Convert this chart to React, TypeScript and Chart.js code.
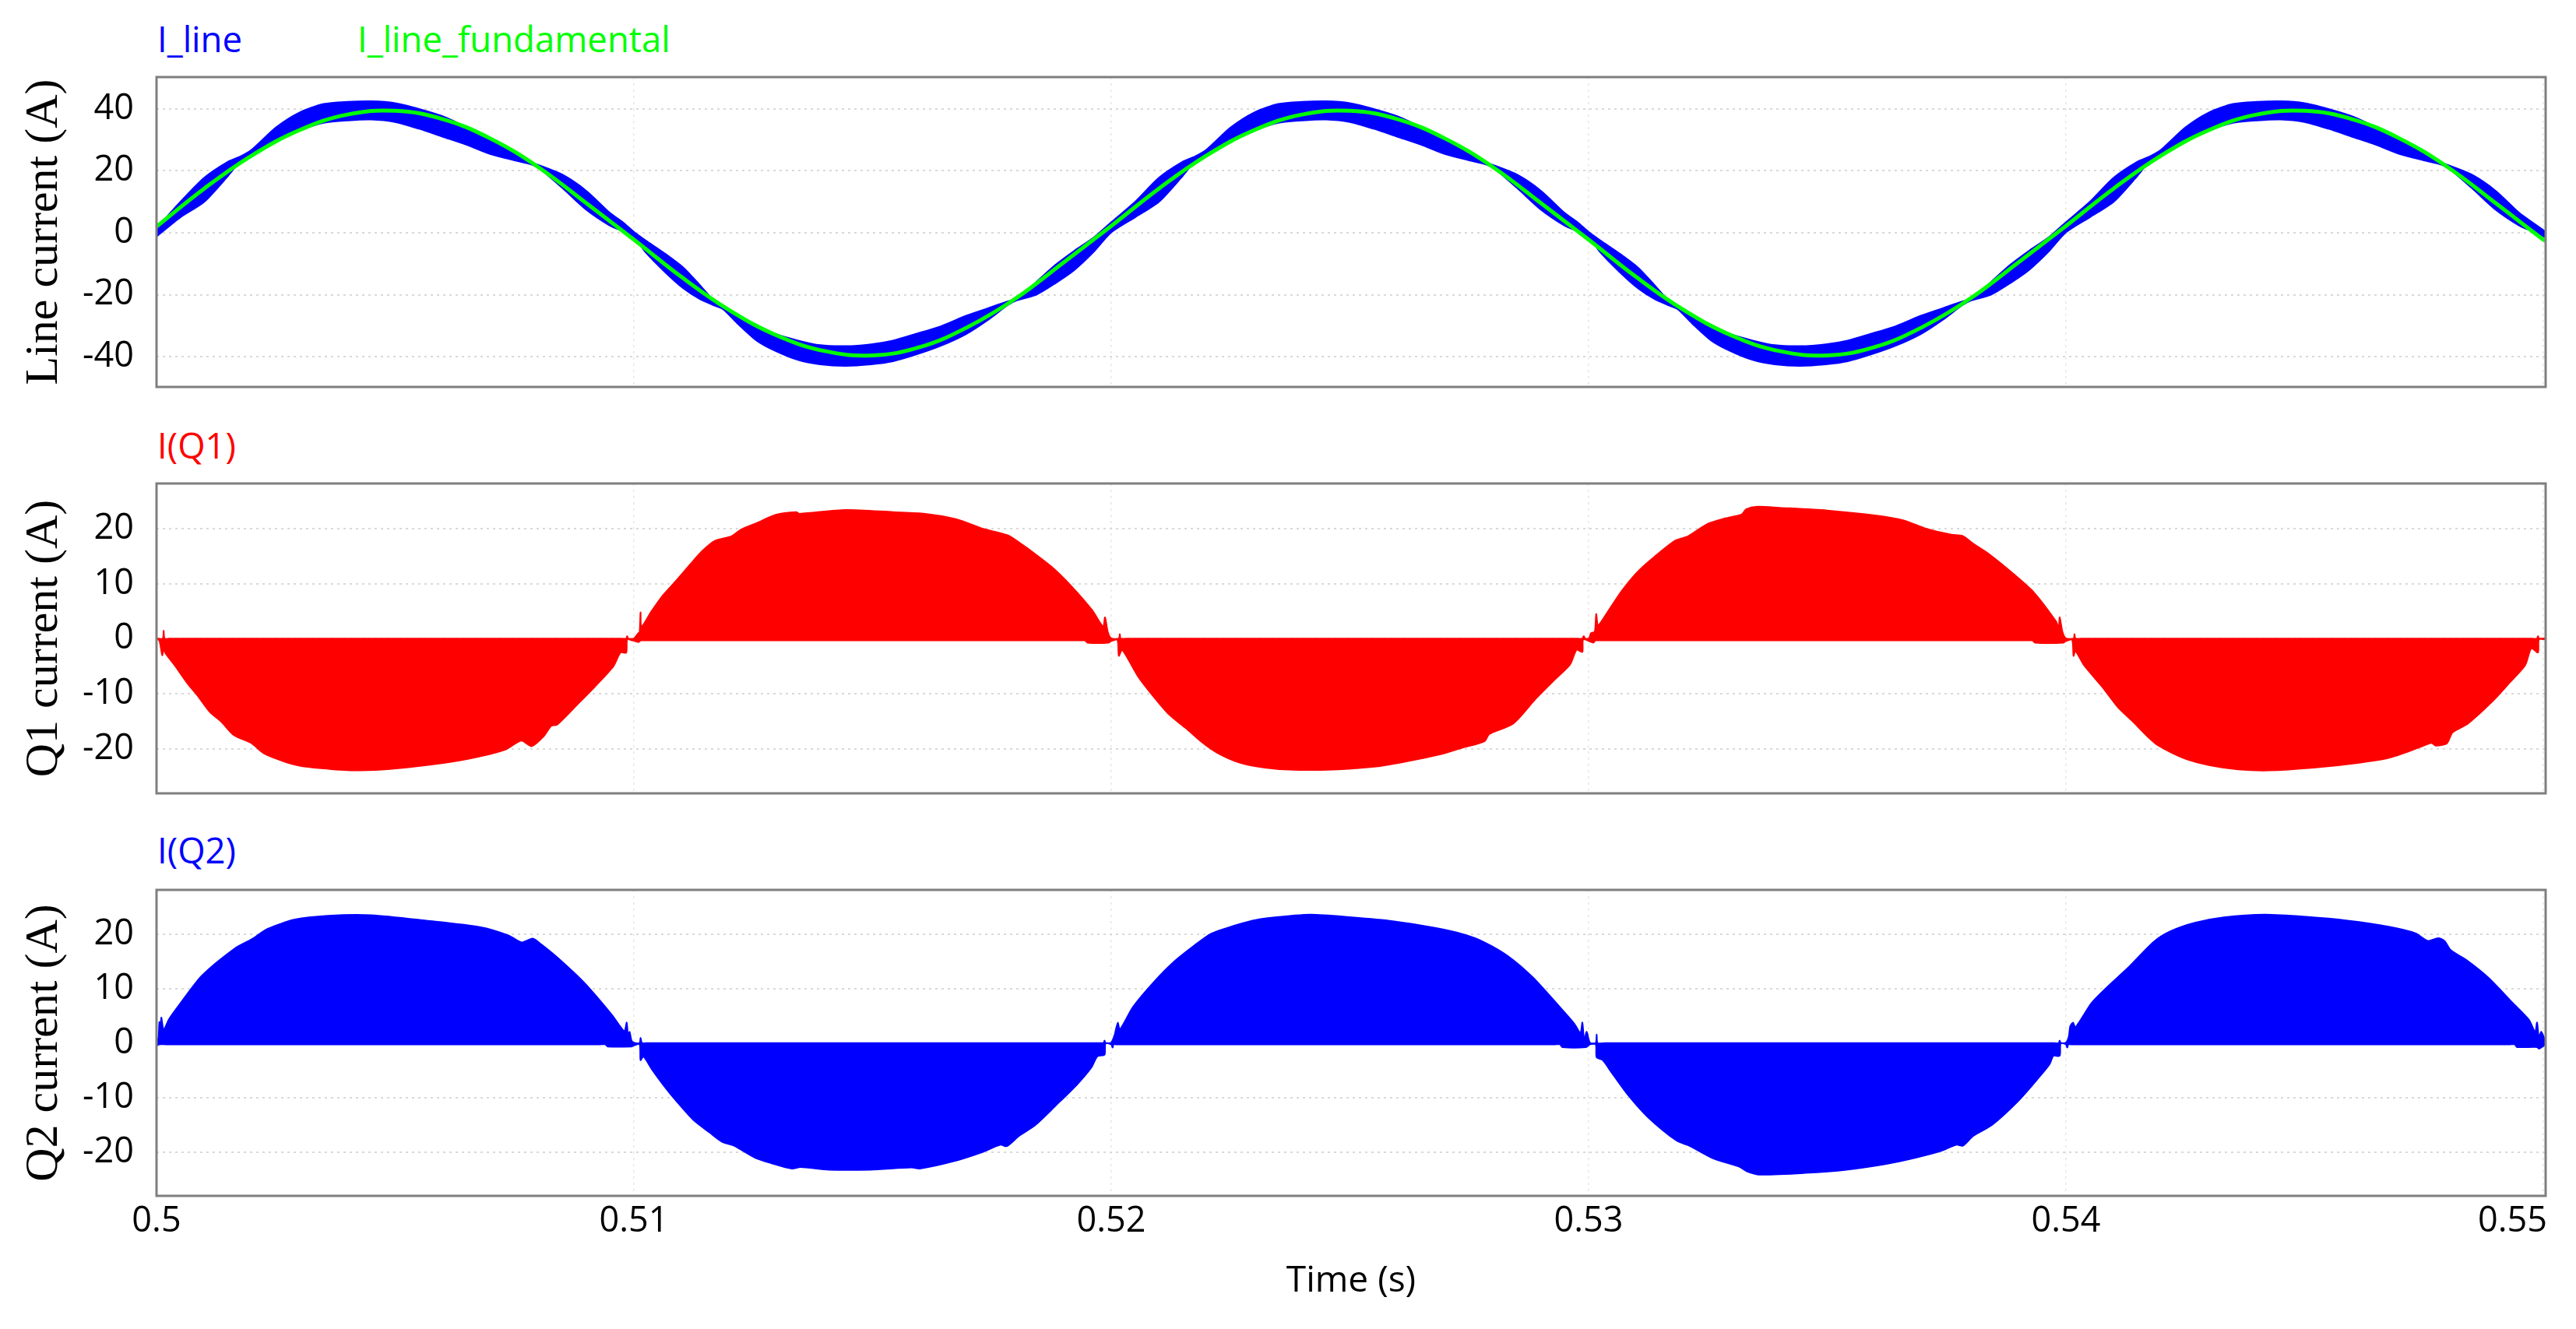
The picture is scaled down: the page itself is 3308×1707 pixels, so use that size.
import { useEffect, useRef } from "react"
import { Chart, registerables } from "chart.js"

Chart.register(...registerables)

// all times are ms after t = 0.5 s
const lineTime = [
  0, 0.5, 1, 1.5, 1.75, 2, 2.5, 3, 3.5, 4, 4.5, 5, 5.5, 6, 6.5, 7, 7.5, 7.8, 8, 8.5, 9, 9.5, 9.77,
  10, 10.24, 10.64, 11.04, 11.37, 11.67, 11.87, 12.17, 12.57, 12.97, 13.44, 13.9, 14.43, 14.97, 15.43, 15.9, 16.43, 16.96, 17.43, 17.83, 18.03, 18.43, 18.83, 19.23, 19.63,
  20, 20.5, 21, 21.5, 21.75, 22, 22.5, 23, 23.5, 24, 24.5, 25, 25.5, 26, 26.5, 27, 27.5, 27.8, 28, 28.5, 29, 29.5, 29.77,
  30, 30.24, 30.64, 31.04, 31.37, 31.67, 31.87, 32.17, 32.57, 32.97, 33.44, 33.9, 34.43, 34.97, 35.43, 35.9, 36.43, 36.96, 37.43, 37.83, 38.03, 38.43, 38.83, 39.23, 39.63,
  40, 40.5, 41, 41.5, 41.75, 42, 42.5, 43, 43.5, 44, 44.5, 45, 45.5, 46, 46.5, 47, 47.5, 47.8, 48, 48.5, 49, 49.5, 49.77, 50.05
]
const lineUpper = [
  1.4, 10, 17.8, 23, 24.6, 26.9, 34, 38.9, 41.6, 42.3, 42.5, 41.9, 40, 37.6, 34, 29.7, 25.4, 22.9, 21.9, 18.8, 13.6, 6.4, 3.4,
  0.3, -2.4, -6.6, -11.3, -16.7, -21.8, -23.9, -27, -29.7, -32.7, -34.8, -36.3, -36.6, -36, -34.8, -32.7, -30.2, -26.8, -24.3, -22.2, -21.3, -15.9, -10.4, -5.8, -1.6,
  3.4, 10, 17.8, 23, 24.6, 26.9, 34, 38.9, 41.6, 42.3, 42.5, 41.9, 40, 37.6, 34, 29.7, 25.4, 22.9, 21.9, 18.8, 13.6, 6.4, 3.4,
  0.3, -2.4, -6.6, -11.3, -16.7, -21.8, -23.9, -27, -29.7, -32.7, -34.8, -36.3, -36.6, -36, -34.8, -32.7, -30.2, -26.8, -24.3, -22.2, -21.3, -15.9, -10.4, -5.8, -1.6,
  3.4, 10, 17.8, 23, 24.6, 26.9, 34, 38.9, 41.6, 42.3, 42.5, 41.9, 40, 37.6, 34, 29.7, 25.4, 22.9, 21.9, 18.8, 13.6, 6.4, 3.4, 0.3
]
const lineLower = [
  -1.2, 5, 10, 18.4, 23, 25.6, 29.4, 33, 35.5, 36.3, 36.6, 35.8, 33.6, 31, 28.4, 25.4, 23.4, 22.3, 21, 14.5, 7.5, 2.3, 0.5,
  -1.2, -6.2, -12.5, -18, -21.3, -23.4, -24.7, -29.3, -34.8, -38.2, -41.1, -42.5, -43, -42.5, -41.5, -39.4, -36.5, -32.7, -28, -23.4, -21.8, -20, -16.3, -12, -6.2,
  0.1, 5, 10, 18.4, 23, 25.6, 29.4, 33, 35.5, 36.3, 36.6, 35.8, 33.6, 31, 28.4, 25.4, 23.4, 22.3, 21, 14.5, 7.5, 2.3, 0.5,
  -1.2, -6.2, -12.5, -18, -21.3, -23.4, -24.7, -29.3, -34.8, -38.2, -41.1, -42.5, -43, -42.5, -41.5, -39.4, -36.5, -32.7, -28, -23.4, -21.8, -20, -16.3, -12, -6.2,
  0.1, 5, 10, 18.4, 23, 25.6, 29.4, 33, 35.5, 36.3, 36.6, 35.8, 33.6, 31, 28.4, 25.4, 23.4, 22.3, 21, 14.5, 7.5, 2.3, 0.5, -1.5
]

const fundTime = [
  0, 1, 2, 3, 4, 5, 6, 7, 8, 9, 10, 11, 12, 13, 14, 15, 16, 17, 18, 19, 20, 21, 22, 23, 24, 25,
  26, 27, 28, 29, 30, 31, 32, 33, 34, 35, 36, 37, 38, 39, 40, 41, 42, 43, 44, 45, 46, 47, 48, 49, 50, 50.05
]
const fundValues = [
  2, 14.3, 25, 33.2, 38.2, 39.4, 36.7, 30.4, 21.2, 9.6, -2.2, -14.3, -25, -33.2, -38.2, -39.6, -36.9, -30.4, -21.2, -9.6, 2.2, 14.3, 25, 33.2, 38.2, 39.4,
  36.7, 30.4, 21.2, 9.6, -2.2, -14.3, -25, -33.2, -38.2, -39.6, -36.9, -30.4, -21.2, -9.6, 2.2, 14.3, 25, 33.2, 38.2, 39.4, 36.7, 30.4, 21.2, 9.6, -2.2, -2.6
]

const q1UpperTime = [
  0, 0.13, 0.15, 0.17, 0.3, 9.7, 9.84, 9.86, 9.88,
  10, 10.09, 10.12, 10.14, 10.16, 10.37, 10.6, 10.87, 11.17, 11.44, 11.7, 12.04, 12.24, 12.57, 12.97, 13.4, 13.47, 14.43, 15.43, 16.1, 16.76, 17.3, 17.83, 18.1, 18.36, 18.76, 19.16, 19.6, 19.83, 19.87, 19.93, 20,
  20.16, 20.18, 20.2, 20.35, 29.7, 29.87, 29.9, 29.93,
  30.01, 30.05, 30.13, 30.16, 30.2, 30.35, 30.68, 31.01, 31.34, 31.81, 32.08, 32.48, 32.88, 33.21, 33.3, 33.54, 34, 35, 36, 36.6, 37.07, 37.6, 37.83, 38.07, 38.4, 38.87, 39.33, 39.79, 39.85, 39.87, 39.93, 40,
  40.16, 40.18, 40.2, 40.35, 49.7, 49.87, 49.89, 49.91, 50.05
]
const q1Upper = [
  0.05, 0.05, 1.5, 0.05, 0.05, 0.05, 0.05, 0.5, 0.05,
  0.05, 1, 1.2, 4.8, 2.2, 5, 7.8, 10.4, 13.4, 16, 17.8, 18.6, 19.8, 21, 22.5, 23, 22.7, 23.4, 23, 22.7, 21.7, 20, 18.8, 17.3, 15.7, 13, 9.6, 5.2, 2.2, 3.9, 1.2, 0.1,
  0.05, 0.9, 0.05, 0.05, 0.05, 0.05, 0.5, 0.05,
  0.1, 1, 1.3, 4.5, 2.5, 4.2, 8.5, 12, 14.6, 17.8, 18.6, 20.8, 21.9, 22.6, 23.5, 24, 23.8, 23.3, 22.4, 21.5, 20, 18.9, 18.7, 17.2, 15.3, 12, 8.4, 3.2, 2, 3.9, 1.2, 0.1,
  0.05, 0.9, 0.05, 0.05, 0.05, 0.05, 0.5, 0.05, 0.1
]
const q1LowerTime = [
  0, 0.06, 0.12, 0.15, 0.18, 0.38, 0.65, 0.85, 1.12, 1.35, 1.62, 1.98, 2.25, 2.65, 2.98, 3.45, 4.11, 4.78, 5.31, 5.98, 6.64, 7.31, 7.64, 7.86, 8.1, 8.27, 8.39, 8.84, 9.17, 9.57, 9.72, 9.84, 9.86, 9.97,
  10.1, 10.14, 10.2, 10.35, 19.3, 19.45, 19.5, 19.95, 20,
  20.13, 20.16, 20.23, 20.56, 20.89, 21.22, 21.56, 21.89, 22.22, 22.69, 23.22, 23.82, 24.75, 25.55, 26.22, 26.88, 27.35, 27.82, 27.92, 28.42, 28.88, 29.28, 29.61, 29.75, 29.87, 29.89,
  30.1, 30.14, 30.2, 30.35, 39.2, 39.3, 39.35, 39.95, 40,
  40.13, 40.16, 40.2, 40.38, 40.77, 41.09, 41.4, 41.72, 41.94, 42.48, 43.04, 43.61, 44.24, 45.19, 46.14, 46.77, 47.41, 47.66, 47.75, 47.98, 48.1, 48.42, 48.93, 49.3, 49.62, 49.75, 49.89, 49.91, 50.05
]
const q1Lower = [
  0, -0.3, -3, -1.5, -2.5, -4.8, -8.1, -10.2, -13.3, -15, -17.5, -18.9, -20.8, -22.2, -23, -23.5, -23.9, -23.7, -23.3, -22.6, -21.6, -20.1, -18.5, -19.5, -17.8, -15.8, -15.6, -11.7, -8.8, -5, -2.5, -2.5, -0.1, -0.3,
  -0.6, -0.3, -0.3, -0.3, -0.3, -0.3, -0.7, -0.7, -0.4,
  -0.2, -3.1, -2, -6.8, -10.5, -13.8, -16.2, -18.7, -20.7, -22.5, -23.4, -23.8, -23.7, -23.2, -22.2, -21, -19.8, -18.6, -17.3, -15.4, -11, -7.5, -4.7, -2, -2.4, -0.1,
  -0.7, -0.3, -0.3, -0.3, -0.3, -0.3, -0.7, -0.7, -0.4,
  -0.2, -3.1, -2.2, -4.8, -8.8, -12.4, -15, -17.8, -19.4, -21.7, -23, -23.7, -23.9, -23.4, -22.5, -21.6, -19.7, -18.9, -19.4, -19, -17, -15.4, -11.4, -7.9, -4.8, -1.7, -2.5, -0.1, -0.1
]

const q2UpperTime = [
  0, 0.04, 0.06, 0.08, 0.1, 0.15, 0.26, 0.49, 0.95, 1.64, 1.98, 2.33, 2.9, 3.59, 4.5, 5.65, 6.79, 7.37, 7.65, 7.88, 8.05, 8.4, 8.97, 9.54, 9.8, 9.85, 9.88, 9.91, 9.95, 10,
  10.12, 10.14, 10.17, 10.3, 19.7, 19.84, 19.86, 19.88,
  20, 20.07, 20.1, 20.14, 20.18, 20.46, 20.89, 21.32, 21.75, 22.09, 22.44, 22.96, 23.31, 24.17, 25.04, 25.9, 26.76, 27.37, 27.8, 28.31, 28.83, 29.35, 29.7, 29.83, 29.87, 29.91, 29.96, 30.03,
  30.15, 30.17, 30.19, 30.35, 39.7, 39.85, 39.87, 39.89,
  40, 40.06, 40.09, 40.15, 40.2, 40.54, 40.89, 41.32, 41.84, 42.18, 42.7, 43.31, 44.17, 45.03, 45.9, 46.76, 47.32, 47.58, 47.8, 47.93, 48.06, 48.4, 48.84, 49.36, 49.7, 49.83, 49.87, 49.91, 49.96, 50.05
]
const q2Upper = [
  0.5, 1, 3.9, 1.5, 4.7, 2.5, 4.4, 7.2, 12.4, 17.4, 19, 21, 22.7, 23.4, 23.5, 22.5, 21.3, 19.8, 18.5, 19.2, 18.2, 15.7, 11, 5.2, 2.2, 3.8, 1, 2.1, 0.5, 0.1,
  0.05, 1, 0.05, 0.05, 0.05, 0.05, 0.5, 0.05,
  0.1, 1.5, 2.6, 3.8, 2.5, 6.7, 11.2, 15, 18, 20.1, 21.2, 22.5, 23, 23.6, 23.1, 22.4, 21.2, 20, 18.6, 16, 12.1, 7.1, 3.6, 1.9, 3.8, 0.5, 2.1, 0.1,
  0.05, 1.6, 0.05, 0.05, 0.05, 0.05, 0.5, 0.05,
  0.1, 1.2, 3.1, 3.8, 2.9, 7.4, 10.5, 14, 18.6, 20.5, 22.1, 23.1, 23.6, 23.2, 22.5, 21.4, 20.2, 18.8, 19.3, 18.8, 17.1, 15.2, 12.1, 7.4, 4.3, 2.1, 3.8, 1, 2.1, 0.2
]
const q2LowerTime = [
  0, 0.05, 0.2, 9.3, 9.4, 9.45, 9.95, 10,
  10.12, 10.14, 10.2, 10.38, 10.64, 10.9, 11.24, 11.59, 11.85, 12.1, 12.54, 12.88, 13.31, 13.49, 14.09, 14.95, 15.82, 15.99, 16.68, 17.29, 17.68, 17.81, 18.07, 18.41, 18.84, 19.28, 19.58, 19.71, 19.86, 19.88,
  20, 20.03, 20.05, 20.1, 20.25, 29.3, 29.4, 29.45, 29.95, 30.03,
  30.15, 30.17, 30.3, 30.47, 30.81, 31.25, 31.85, 32.11, 32.63, 33.15, 33.32, 33.58, 34.53, 35.4, 36.26, 36.85, 37.37, 37.71, 37.84, 38.06, 38.45, 39.01, 39.44, 39.66, 39.74, 39.87, 39.89,
  40, 40.03, 40.05, 40.1, 40.25, 49.3, 49.4, 49.45, 49.87, 49.91, 50.05
]
const q2Lower = [
  -0.5, -0.2, -0.2, -0.2, -0.2, -0.6, -0.6, -0.4,
  -0.2, -3.1, -2.4, -4.8, -7.9, -10.7, -14, -16.4, -18.1, -18.8, -21, -22, -23, -22.7, -23.2, -23.2, -22.8, -23, -21.7, -20, -18.6, -18.9, -17, -15, -11.4, -7.6, -4.5, -2.4, -2.1, 0,
  -0.2, -0.8, -0.2, -0.2, -0.2, -0.2, -0.2, -0.7, -0.7, -0.2,
  -0.2, -2.6, -3.1, -5.2, -9.3, -13.6, -17.9, -18.8, -21.2, -22.6, -23.5, -24.1, -23.8, -23.2, -22.1, -21, -19.8, -18.6, -18.8, -17, -15, -10.5, -6.2, -3.8, -2.3, -2.3, 0,
  -0.2, -0.8, -0.2, -0.2, -0.2, -0.2, -0.2, -0.7, -0.7, -1, -0.2
]

const timeTicks = [0.5, 0.51, 0.52, 0.53, 0.54, 0.55]
const lineTicks = [-40, -20, 0, 20, 40]
const qTicks = [-20, -10, 0, 10, 20]

const BLUE = "#0000ff"
const RED = "#ff0000"
const GREEN = "#00ff00"
const SANS = "'Open Sans'"

const toPoints = (times: number[], values: number[]) =>
  times.map((ms, i) => ({ x: 0.5 + ms / 1000, y: values[i] }))

const band = (t1: number[], upper: number[], t2: number[], lower: number[], color: string) => [
  { data: toPoints(t1, upper), borderColor: color, backgroundColor: color, borderWidth: 2, fill: "+1", tension: 0.25 },
  { data: toPoints(t2, lower), borderColor: color, backgroundColor: color, borderWidth: 2, fill: false, tension: 0.25 }
]

// frame around the plot, and the last time label sits inside the right edge
const framePlugin = {
  id: "frame",
  beforeDraw(chart: any) {
    const x = chart.scales.x
    if (!x.options.ticks.display) return
    const items = x.getLabelItems(chart.chartArea)
    const last = items[items.length - 1]
    last.options.textAlign = "right"
    last.options.translation[0] = x.right + 2
  },
  afterDatasetsDraw(chart: any) {
    const { left, top, width, height } = chart.chartArea
    const { ctx } = chart
    ctx.save()
    ctx.strokeStyle = "#7f7f7f"
    ctx.lineWidth = 3
    ctx.strokeRect(left, top, width, height)
    ctx.restore()
  }
}

type PanelProps = {
  top: number
  height: number
  padTop: number
  padBottom: number
  yMin: number
  yMax: number
  yTicks: number[]
  yTitle: string
  datasets: any[]
  showTime?: boolean
}

function Panel({ top, height, padTop, padBottom, yMin, yMax, yTicks, yTitle, datasets, showTime }: PanelProps) {
  const ref = useRef<HTMLCanvasElement>(null)

  useEffect(() => {
    if (!ref.current) return
    const chart = new Chart(ref.current, {
      type: "line",
      data: { datasets },
      plugins: [framePlugin],
      options: {
        responsive: false,
        animation: false,
        devicePixelRatio: 1,
        layout: { padding: { top: padTop, bottom: padBottom, left: 0, right: 39 } },
        elements: { point: { radius: 0 } },
        plugins: { legend: { display: false }, tooltip: { enabled: false } },
        scales: {
          x: {
            type: "linear",
            min: 0.5,
            max: 0.55005,
            afterBuildTicks: (s: any) => { s.ticks = timeTicks.map((value) => ({ value })) },
            afterFit: (s: any) => {
              s.paddingLeft = 0
              s.paddingRight = 0
              s.height = showTime ? 171 : 0
            },
            border: { display: false, dash: [3, 5] },
            grid: { color: "#e8e8de", lineWidth: 1.5, drawTicks: false },
            ticks: {
              display: !!showTime,
              autoSkip: false,
              maxRotation: 0,
              padding: 6,
              color: "#000",
              font: { family: SANS, size: 45 },
              callback: (v: any) => String(Number(v))
            },
            title: {
              display: !!showTime,
              text: "Time (s)",
              color: "#000",
              font: { family: SANS, size: 46 },
              padding: { top: 0, bottom: 34 }
            }
          },
          y: {
            min: yMin,
            max: yMax,
            afterBuildTicks: (s: any) => { s.ticks = yTicks.map((value) => ({ value })) },
            afterFit: (s: any) => {
              s.width = 201
              s.paddingTop = 0
              s.paddingBottom = 0
            },
            border: { display: false, dash: [3, 5] },
            grid: { color: "#d9d9d9", lineWidth: 2, drawTicks: false },
            ticks: {
              padding: 29,
              color: "#000",
              font: { family: SANS, size: 45 }
            },
            title: {
              display: true,
              text: yTitle,
              color: "#000",
              font: { family: "'Liberation Serif'", size: 60 },
              padding: { top: 21, bottom: 0 }
            }
          }
        }
      }
    } as any)
    return () => chart.destroy()
  }, [])

  return (
    <canvas
      ref={ref}
      width={3308}
      height={height}
      style={{ position: "absolute", left: 0, top, width: 3308, height, display: "block" }}
    />
  )
}

function Label({ x, y, color, text }: { x: number; y: number; color: string; text: string }) {
  return (
    <div
      style={{
        position: "absolute",
        left: x,
        top: y,
        color,
        fontFamily: SANS,
        fontSize: 45.5,
        lineHeight: "45.5px",
        whiteSpace: "nowrap"
      }}
    >
      {text}
    </div>
  )
}

export default function App() {
  const lineDatasets = [
    ...band(lineTime, lineUpper, lineTime, lineLower, BLUE),
    { data: toPoints(fundTime, fundValues), borderColor: GREEN, borderWidth: 5, fill: false, tension: 0.4, order: -1 }
  ]

  return (
    <div style={{ position: "absolute", left: 0, top: 0, width: 3308, height: 1707, background: "#fff", overflow: "hidden" }}>
      <Label x={202} y={27} color={BLUE} text="I_line" />
      <Label x={459} y={27} color={GREEN} text="I_line_fundamental" />
      <Label x={202} y={549} color={RED} text="I(Q1)" />
      <Label x={202} y={1069} color={BLUE} text="I(Q2)" />
      <Panel top={70} height={450} padTop={29} padBottom={23} yMin={-49.8} yMax={50.3} yTicks={lineTicks} yTitle="Line current (A)" datasets={lineDatasets} />
      <Panel top={590} height={450} padTop={31} padBottom={21} yMin={-28.06} yMax={28.2} yTicks={qTicks} yTitle="Q1 current (A)" datasets={band(q1UpperTime, q1Upper, q1LowerTime, q1Lower, RED)} />
      <Panel top={1112} height={595} padTop={31} padBottom={0} yMin={-28} yMax={28.14} yTicks={qTicks} yTitle="Q2 current (A)" datasets={band(q2UpperTime, q2Upper, q2LowerTime, q2Lower, BLUE)} showTime />
    </div>
  )
}
